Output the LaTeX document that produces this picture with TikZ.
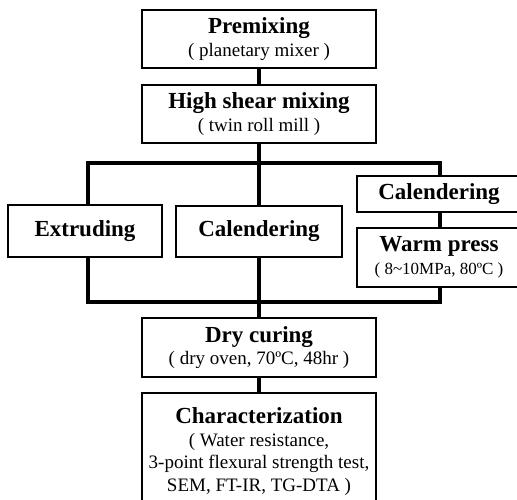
\documentclass[tikz,border=0pt]{standalone}
\usepackage{fontspec}
\setmainfont{Liberation Serif}
\usepackage{tikz}
\usetikzlibrary{calc}

\newcommand{\stagetitle}[1]{{\fontsize{23}{26}\selectfont\bfseries #1}}

\begin{document}
\begin{tikzpicture}[x=1pt, y=-1pt,
  every node/.style={font=\fontsize{19}{22.5}\selectfont},
  stage/.style={draw, line width=1.2pt, inner sep=0pt, align=center},
  bus/.style={line width=4pt}]
\useasboundingbox (0,0) rectangle (517,499);
% process boxes
\node[stage, minimum width=234pt, minimum height=58pt] (pre)   at (259,39)    {\stagetitle{Premixing}\\( planetary mixer )};
\node[stage, minimum width=234pt, minimum height=58pt] (shear) at (259,114)   {\stagetitle{High shear mixing}\\( twin roll mill )};
\node[stage, minimum width=154pt, minimum height=52pt] (extr)  at (85,231)    {\stagetitle{Extruding}};
\node[stage, minimum width=166pt, minimum height=51pt] (calA)  at (259,231.5) {\stagetitle{Calendering}};
\node[stage, minimum width=164pt, minimum height=36pt] (calB)  at (439,194)   {\stagetitle{Calendering}};
\node[stage, minimum width=164pt, minimum height=59pt] (warm)  at (439,257.5) {\stagetitle{Warm press}\\{\fontsize{17}{20}\selectfont ( 8\textasciitilde10MPa, 80ºC )}};
\node[stage, minimum width=234pt, minimum height=59pt] (dry)   at (259,347.5) {\stagetitle{Dry curing}\\( dry oven, 70ºC, 48hr )};
\node[stage, minimum width=234pt, minimum height=117pt] (char) at (259,451.5) {\stagetitle{Characterization}\\( Water resistance,\\3-point flexural strength test,\\SEM, FT-IR, TG-DTA )};
% bus corners
\coordinate (topL) at (88,163);
\coordinate (topR) at (440,163);
\coordinate (botL) at (88,302);
\coordinate (botR) at (440,302);
% connectors
\draw[bus] (pre.south) -- (shear.north);
\draw[bus] (shear.south) -- (calA.north);
\draw[bus] (extr.north -| topL) -- (topL) -- (topR) -- (calB.north -| topR);
\draw[bus] (calB.south -| topR) -- (warm.north -| topR);
\draw[bus] (extr.south -| botL) -- (botL) -- (botR) -- (warm.south -| botR);
\draw[bus] (calA.south) -- (dry.north);
\draw[bus] (dry.south) -- (char.north);
\end{tikzpicture}
\end{document}
